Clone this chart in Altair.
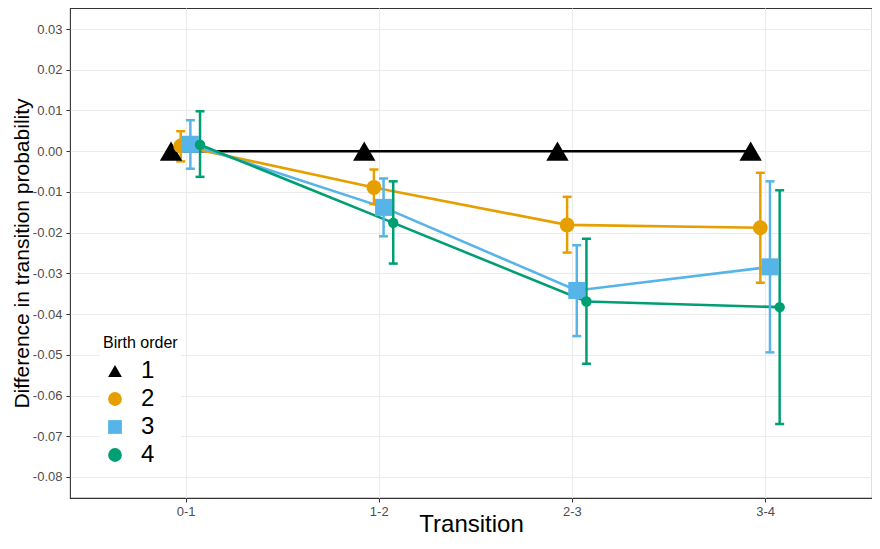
import altair as alt
import pandas as pd
import numpy as np

transitions = ["0-1", "1-2", "2-3", "3-4"]
birth_orders = ["1", "2", "3", "4"]

est_1 = [0.0, 0.0, 0.0, 0.0]
est_2 = [0.0013, -0.0089, -0.0181, -0.0188]
lo_2 = [-0.0025, -0.0130, -0.0249, -0.0323]
hi_2 = [0.0049, -0.0045, -0.0112, -0.0053]
est_3 = [0.0017, -0.0138, -0.0342, -0.0284]
lo_3 = [-0.0043, -0.0209, -0.0454, -0.0494]
hi_3 = [0.0076, -0.0067, -0.0231, -0.0074]
est_4 = [0.0016, -0.0176, -0.0369, -0.0383]
lo_4 = [-0.0063, -0.0276, -0.0522, -0.0670]
hi_4 = [0.0098, -0.0074, -0.0215, -0.0096]

colors = ["#000000", "#E69F00", "#56B4E9", "#009E73"]
shapes = ["triangle-up", "circle", "square", "circle"]
sizes = [500, 220, 290, 110]
dodge = [-0.075, -0.025, 0.025, 0.075]

series = [
    (est_1, est_1, est_1),
    (est_2, lo_2, hi_2),
    (est_3, lo_3, hi_3),
    (est_4, lo_4, hi_4),
]
rows = []
for k, (est, lo, hi) in enumerate(series):
    for i, t in enumerate(transitions):
        rows.append(dict(order=birth_orders[k], idx=i, transition=t,
                         est=est[i], lo=lo[i], hi=hi[i], dodge=dodge[k]))
df = pd.DataFrame(rows)

FONT = "Liberation Sans"
label_expr_x = "[" + ",".join("'%s'" % t for t in transitions) + "][datum.value]"
y_ticks = [round(v, 3) for v in np.arange(-0.08, 0.0301, 0.005)]
minor_test = "round(datum.value*1000) % 10 != 0"

x_enc = alt.X(
    "xpos:Q",
    scale=alt.Scale(domain=[-0.598, 3.553], nice=False, zero=False),
    axis=alt.Axis(values=[0, 1, 2, 3], labelExpr=label_expr_x, title="Transition",
                  grid=True, gridColor="#EBEBEB", gridWidth=1.1,
                  tickColor="#333333", tickSize=4, tickWidth=1,
                  labelColor="#4D4D4D", labelFontSize=13, labelPadding=3,
                  titleFontSize=24, titleFontWeight="normal", titleColor="#000000",
                  titleY=33, titleBaseline="alphabetic",
                  domain=False, labelFont=FONT, titleFont=FONT),
)

y_axis = alt.Axis(
    values=y_ticks,
    labelExpr=minor_test + " ? '' : replace(format(datum.value, '.2f'), '\u2212', '-')",
    title="Difference in transition probability",
    grid=True, gridColor="#EBEBEB",
    gridWidth={"condition": {"test": minor_test, "value": 0.55}, "value": 1.1},
    tickOpacity={"condition": {"test": minor_test, "value": 0}, "value": 1},
    tickColor="#333333", tickSize=4, tickWidth=1,
    labelColor="#4D4D4D", labelFontSize=13, labelPadding=4,
    titleFontSize=21, titleFontWeight="normal", titleColor="#000000",
    titlePadding=0, domain=False, labelFont=FONT, titleFont=FONT,
)
y_scale = alt.Scale(domain=[-0.08516, 0.03516], nice=False, zero=False)

color_scale = alt.Scale(domain=birth_orders, range=colors)
shape_scale = alt.Scale(domain=birth_orders, range=shapes)

legend = alt.Legend(
    title="Birth order", orient="none", legendX=30, legendY=324,
    fillColor="#FFFFFF", padding=3,
    titleFontSize=16, titleFontWeight="normal", titleColor="#000000", titleFont=FONT,
    titlePadding=8,
    labelFontSize=24, labelColor="#000000", labelFont=FONT, labelOffset=14,
    rowPadding=4, symbolSize=190, symbolStrokeWidth=0, symbolOpacity=1,
)

color_enc = alt.Color("order:N", scale=color_scale, legend=legend)
shape_enc = alt.Shape("order:N", scale=shape_scale, legend=legend)

base = alt.Chart(df).transform_calculate(xpos="datum.idx + datum.dodge")

lines = base.mark_line(strokeWidth=2.6).encode(
    x=x_enc,
    y=alt.Y("est:Q", scale=y_scale, axis=y_axis),
    color=color_enc,
    detail="order:N",
)

err = base.transform_filter("datum.order != '1'").mark_rule(strokeWidth=2.5).encode(
    x=x_enc,
    y=alt.Y("lo:Q", scale=y_scale),
    y2="hi:Q",
    color=color_enc,
)

caps = base.transform_filter("datum.order != '1'").transform_fold(
    ["lo", "hi"], as_=["bound", "yv"]
).mark_tick(orient="horizontal", size=9, thickness=2.5, opacity=1).encode(
    x=x_enc,
    y=alt.Y("yv:Q", scale=y_scale),
    color=color_enc,
)

point_layers = []
for k, o in enumerate(birth_orders):
    point_layers.append(
        base.transform_filter("datum.order == '%s'" % o)
        .mark_point(filled=True, opacity=1, strokeWidth=0, size=sizes[k])
        .encode(
            x=x_enc,
            y=alt.Y("est:Q", scale=y_scale),
            color=color_enc,
            shape=shape_enc,
        )
    )

chart = alt.layer(lines, err, caps, *point_layers).properties(
    width=802, height=490,
    autosize=alt.AutoSizeParams(type="none"),
    padding={"left": 62, "top": 0, "right": 0, "bottom": 40},
).configure(
    font=FONT
).configure_view(
    stroke="#333333", strokeWidth=1.1
)

chart.save("out.html", embed_options={"renderer": "svg", "actions": False})
